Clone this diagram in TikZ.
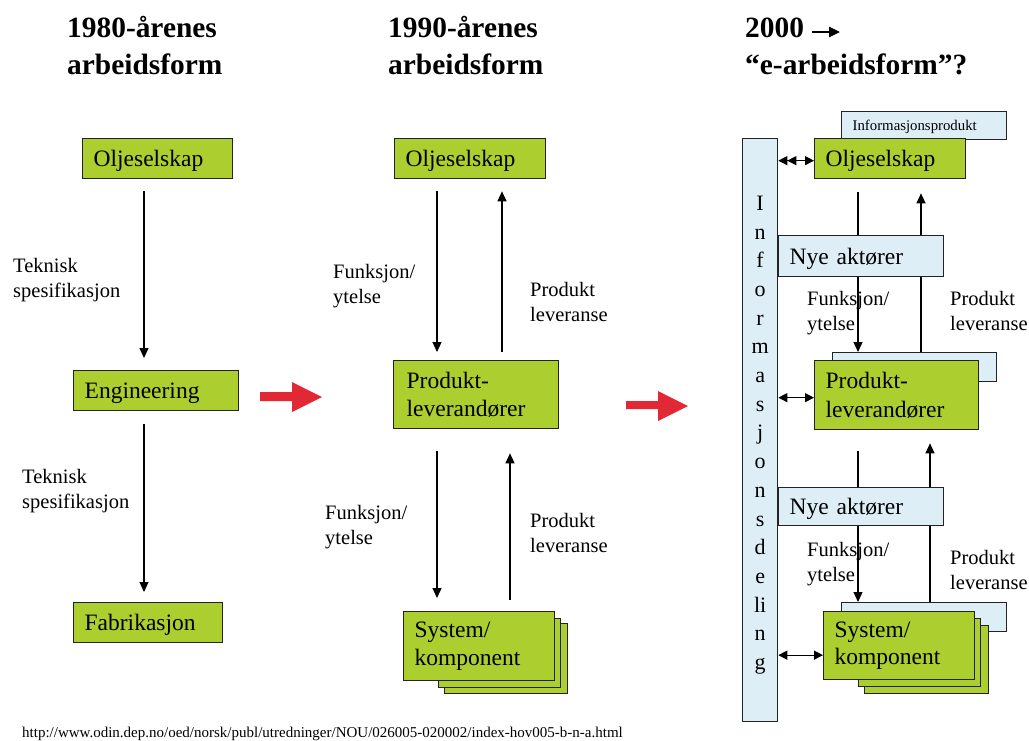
\documentclass[tikz,border=0pt]{standalone}
\usepackage{fontspec}
\setmainfont{Liberation Serif}
\usetikzlibrary{arrows.meta,calc,backgrounds}

\definecolor{boxgreen}{RGB}{172,206,46}
\definecolor{infoblue}{RGB}{222,238,247}
\definecolor{shiftred}{RGB}{226,40,52}
\definecolor{edge}{RGB}{35,35,35}

\begin{document}
\begin{tikzpicture}[x=1pt,y=-1pt,
  every node/.style={inner sep=0pt},
  title/.style={font=\fontsize{29.4}{37}\selectfont\bfseries, anchor=base west, align=left},
  lbl/.style={font=\fontsize{20.5}{25}\selectfont, anchor=base west, align=left},
  gbox/.style={draw=edge, line width=1.3pt, fill=boxgreen, font=\fontsize{23.5}{28.5}\selectfont,
    align=left, inner xsep=11pt, anchor=north west},
  bbox/.style={gbox, fill=infoblue},
  oneline/.style={text depth=0pt},
  stackbox/.style={draw=edge, line width=1.3pt, fill=boxgreen, anchor=north west},
  flow/.style={line width=1.2pt, -{Triangle[length=10pt,width=9pt]}},
  link/.style={line width=1.2pt, {Triangle[length=9pt,width=9pt]}-{Triangle[length=9pt,width=9pt]}},
  linkdbl/.style={line width=1.2pt, {Triangle[length=9pt,width=9pt]Triangle[length=9pt,width=9pt]}-{Triangle[length=9pt,width=9pt]}},
  redarrow/.style={fill=shiftred},
]
\useasboundingbox (0,0) rectangle (1029,740);
\fill[white] (0,0) rectangle (1029,740);

% ---------- headings (anchored on the last line's baseline) ----------
\node[title] (t1) at (67,74) {1980-årenes\\arbeidsform};
\node[title] (t2) at (388,74) {1990-årenes\\arbeidsform};
\node[title] (t3) at (745,74) {2000\\“e-arbeidsform”?};
\coordinate (ta) at (812,32);
\coordinate (tb) at (840,32);
\draw[line width=2.6pt, -{Triangle[length=11pt,width=10pt]}] (ta) -- (tb);

% ---------- 1980s column ----------
\node[gbox, oneline, text width=128pt, minimum height=40pt] (oA) at (82,138) {Oljeselskap};
\node[gbox, oneline, text width=143pt, minimum height=40pt] (eA) at (73,370) {Engineering};
\node[gbox, oneline, text width=127pt, minimum height=40pt] (fA) at (73,602) {Fabrikasjon};
\coordinate (xl) at (144,0);
\draw[flow] ([yshift=-12pt]oA.south -| xl) -- ([yshift=12pt]eA.north -| xl);
\draw[flow] ([yshift=-13pt]eA.south -| xl) -- ([yshift=10pt]fA.north -| xl);
\node[lbl] (lA1) at (13,297) {Teknisk\\spesifikasjon};
\node[lbl] (lA2) at (22,508) {Teknisk\\spesifikasjon};

% ---------- shift arrows ----------
\fill[redarrow] (260,392) -- (292,392) -- (292,382) -- (322,397) -- (292,412) -- (292,401) -- (260,401) -- cycle;
\fill[redarrow] (626,401) -- (658,401) -- (658,391) -- (688,406) -- (658,421) -- (658,409) -- (626,409) -- cycle;

% ---------- 1990s column ----------
\node[gbox, oneline, text width=129pt, minimum height=40pt] (oB) at (394,138) {Oljeselskap};
\node[gbox, minimum height=68pt, inner xsep=13pt, text width=139pt] (pB) at (393,360) {Produkt-\\leverandører};
\node[stackbox, minimum width=123pt, minimum height=70pt] (sB3) at (444,623) {};
\node[stackbox, minimum width=122pt, minimum height=69pt] (sB2) at (438,618) {};
\node[gbox, text width=129pt, minimum height=69pt, font=\fontsize{23.5}{27.5}\selectfont] (sB) at (403,611) {System/\\komponent};
\coordinate (xm1) at (437,0);
\coordinate (xm2) at (502,0);
\coordinate (xm3) at (510,0);
\draw[flow] ([yshift=-12pt]oB.south -| xm1) -- ([yshift=8pt]pB.north -| xm1);
\draw[flow] ([yshift=8pt]pB.north -| xm2) -- ([yshift=-12pt]oB.south -| xm2);
\draw[flow] ([yshift=-22pt]pB.south -| xm1) -- ([yshift=13pt]sB.north -| xm1);
\draw[flow] ([yshift=11pt]sB.north -| xm3) -- ([yshift=-24pt]pB.south -| xm3);
\node[lbl] (lB1) at (333,303) {Funksjon/\\ytelse};
\node[lbl] (lB2) at (530,321) {Produkt\\leveranse};
\node[lbl] (lB3) at (325,544) {Funksjon/\\ytelse};
\node[lbl] (lB4) at (530,552) {Produkt\\leveranse};

% ---------- 2000 column ----------
\node[bbox, minimum width=35pt, minimum height=583pt] (bar) at (742,138) {};
\node[font=\fontsize{22}{28.7}\selectfont, align=center] (barlbl) at ([yshift=-5pt]bar.center)
  {I\\n\\f\\o\\r\\m\\a\\s\\j\\o\\n\\s\\d\\e\\li\\n\\g};

\node[bbox, oneline, text width=143pt, minimum height=28pt, font=\fontsize{14.8}{17}\selectfont] (ipC) at (841,111) {Informasjonsprodukt};
\node[gbox, oneline, text width=129pt, minimum height=40pt] (oC) at (814,138) {Oljeselskap};
\node[bbox, minimum width=164pt, minimum height=29pt] (pbC) at (832,352) {};
\node[gbox, text width=142pt, minimum height=69pt] (pC) at (814,360) {Produkt-\\leverandører};
\node[bbox, minimum width=165pt, minimum height=29pt] (sbC) at (841,602) {};
\node[stackbox, minimum width=124pt, minimum height=68pt] (sC3) at (864,625) {};
\node[stackbox, minimum width=122pt, minimum height=68pt] (sC2) at (858,618) {};
\node[gbox, text width=129pt, minimum height=68pt, font=\fontsize{23.5}{27.5}\selectfont] (sC) at (823,611) {System/\\komponent};

\coordinate (xa) at (858,0);
\coordinate (xb) at (921,0);
\coordinate (xc) at (930,0);
\draw[flow] ([yshift=-13pt]oC.south -| xa) -- (pbC.north -| xa);
\draw[flow] (pbC.north -| xb) -- ([yshift=-14pt]oC.south -| xb);
\draw[flow] ([yshift=-21pt]pC.south -| xa) -- (sbC.north -| xa);
\draw[flow] (sbC.north -| xc) -- ([yshift=-13pt]pC.south -| xc);

% new actors sit over the flow lines
\node[bbox, oneline, text width=143pt, minimum height=41pt] (n1C) at (778,235) {Nye aktører};
\node[bbox, oneline, text width=143pt, minimum height=38pt] (n2C) at (778,487) {Nye aktører};

\draw[linkdbl] ([yshift=-2pt]oC.west -| bar.east) -- ([yshift=-2pt]oC.west);
\draw[link] ([yshift=-2.5pt]pC.west -| bar.east) -- ([yshift=-2.5pt]pC.west);
\draw[link] ([yshift=-9.5pt]sC.west -| bar.east) -- ([yshift=-9.5pt]sC.west);

\node[lbl] (lC1) at (807,330) {Funksjon/\\ytelse};
\node[lbl] (lC2) at (950,330) {Produkt\\leveranse};
\node[lbl] (lC3) at (807,581) {Funksjon/\\ytelse};
\node[lbl] (lC4) at (950,589) {Produkt\\leveranse};

% ---------- source ----------
\node[font=\fontsize{15}{18}\selectfont, anchor=base west] (src) at (22,737)
  {http://www.odin.dep.no/oed/norsk/publ/utredninger/NOU/026005-020002/index-hov005-b-n-a.html};
\end{tikzpicture}
\end{document}
